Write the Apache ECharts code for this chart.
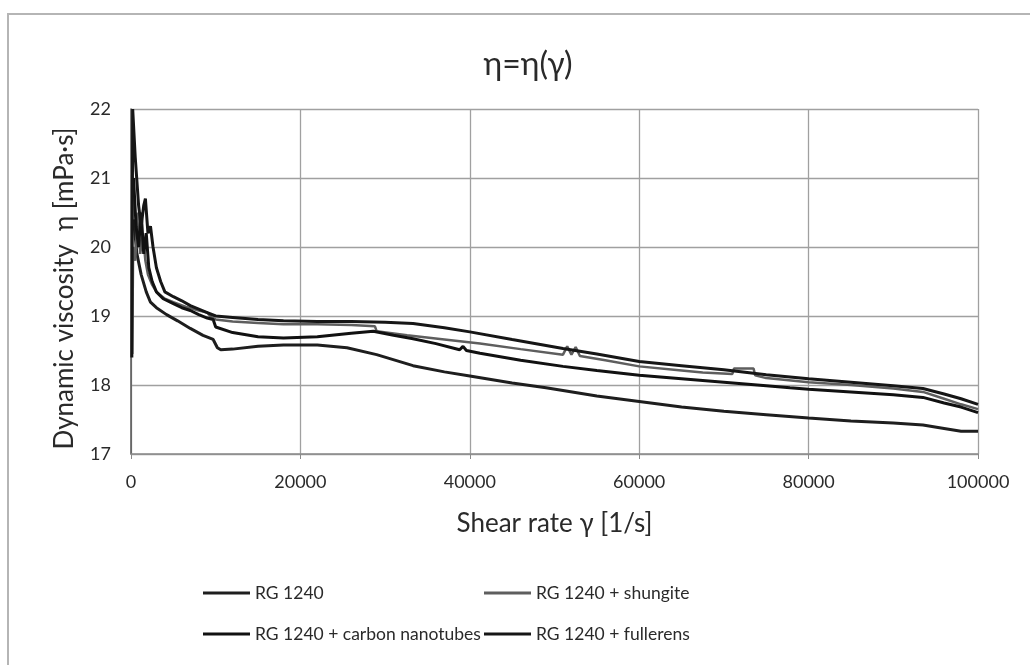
<!DOCTYPE html>
<html>
<head>
<meta charset="utf-8">
<script src="https://cdn.jsdelivr.net/npm/echarts@6/dist/echarts.min.js"></script>
<style>html,body{margin:0;padding:0;background:#fff;}#c{width:1030px;height:665px;}</style>
</head>
<body>
<div id="c"></div>
<script>
const seriesNames = ["RG 1240", "RG 1240 + shungite", "RG 1240 + carbon nanotubes", "RG 1240 + fullerens"];
const xTicks = [0, 20000, 40000, 60000, 80000, 100000];
const yTicks = [17, 18, 19, 20, 21, 22];

const rg1240 = [[300,20.4],[700,19.9],[1200,19.6],[1800,19.35],[2300,19.2],[3000,19.12],[4200,19.02],[5500,18.93],[7000,18.82],[8500,18.72],[9700,18.66],[10200,18.54],[10600,18.51],[12000,18.52],[15000,18.56],[18000,18.58],[22000,18.58],[25500,18.54],[29000,18.44],[33300,18.28],[37000,18.19],[40000,18.13],[45000,18.03],[49000,17.96],[55000,17.84],[60000,17.76],[65000,17.68],[70000,17.62],[75000,17.57],[80000,17.52],[85000,17.48],[90000,17.45],[93500,17.42],[96000,17.37],[98000,17.33],[100000,17.33]];

const shungite = [[150,18.45],[250,20.0],[500,19.8],[800,20.5],[1100,19.9],[1400,20.2],[1700,19.8],[2000,19.6],[2500,19.45],[3000,19.35],[4000,19.25],[5000,19.2],[6500,19.13],[8000,19.08],[9000,19.05],[9500,18.98],[10000,18.95],[12000,18.92],[15000,18.9],[18000,18.88],[22000,18.88],[26000,18.87],[28800,18.85],[29000,18.78],[32600,18.72],[37000,18.66],[41200,18.6],[46000,18.52],[51000,18.44],[51500,18.56],[52000,18.44],[52500,18.55],[53000,18.42],[56000,18.36],[60000,18.27],[65000,18.21],[67500,18.18],[71000,18.16],[71200,18.24],[73500,18.24],[73700,18.14],[75000,18.1],[80000,18.04],[85000,18.0],[90000,17.95],[93500,17.9],[96000,17.8],[98000,17.72],[100000,17.65]];

const nanotubes = [[300,21.0],[600,20.3],[900,20.0],[1200,20.5],[1500,19.9],[1800,20.2],[2100,19.7],[2500,19.5],[3000,19.35],[3800,19.25],[5000,19.18],[6000,19.12],[7000,19.08],[8000,19.02],[9000,18.97],[9700,18.95],[10000,18.84],[12000,18.76],[15000,18.7],[18000,18.68],[22000,18.7],[26000,18.75],[28600,18.78],[31000,18.72],[33300,18.67],[36000,18.6],[38800,18.51],[39200,18.56],[39600,18.5],[41200,18.46],[46000,18.36],[51000,18.27],[55000,18.21],[60000,18.14],[65000,18.09],[70000,18.04],[75000,17.99],[77800,17.96],[80000,17.94],[85000,17.9],[90000,17.86],[93500,17.82],[96000,17.74],[98000,17.68],[100000,17.6]];

const fullerens = [[100,18.4],[200,22.0],[500,21.3],[900,20.6],[1200,20.3],[1500,20.6],[1700,20.7],[2000,20.2],[2300,20.3],[2600,20.0],[3000,19.7],[3500,19.5],[4000,19.35],[5000,19.28],[6000,19.22],[7000,19.15],[8000,19.1],[9000,19.05],[10000,19.0],[12000,18.98],[15000,18.95],[18000,18.93],[22000,18.92],[26000,18.92],[30000,18.91],[33300,18.89],[37000,18.83],[40000,18.77],[45000,18.66],[51000,18.53],[55000,18.45],[60000,18.34],[65000,18.28],[70000,18.22],[75000,18.15],[80000,18.09],[85000,18.04],[90000,17.99],[93500,17.95],[96000,17.87],[98000,17.8],[100000,17.72]];

const seriesData = [rg1240, shungite, nanotubes, fullerens];
const colors = ["#1e1e1e", "#5e5e5e", "#111111", "#161616"];
const widths = [3, 2.5, 3, 3];
const FONT = "Lato";

const chart = echarts.init(document.getElementById('c'), null, {renderer: 'canvas'});
const legendPos = [[198, 579], [479, 579], [198, 620], [479, 620]];
chart.setOption({
  backgroundColor: '#fff',
  animation: false,
  textStyle: {fontFamily: FONT},
  title: {
    text: 'η=η(γ)', left: 523, top: 44, textAlign: 'center',
    textStyle: {fontFamily: FONT, fontSize: 32, fontWeight: 'normal', color: '#2a2a2a'}
  },
  graphic: [{
    type: 'rect', shape: {x: 8, y: 14, width: 1040, height: 680},
    style: {fill: 'none', stroke: '#b5b5b5', lineWidth: 2}, silent: true
  }],
  legend: seriesNames.map((n, i) => ({
    data: [n], left: legendPos[i][0], top: legendPos[i][1],
    icon: 'rect', itemWidth: 47, itemHeight: 3,
    textStyle: {fontFamily: FONT, fontSize: 17.5, color: '#2a2a2a'}
  })),
  grid: {left: 131, right: 52, top: 109, bottom: 211},
  xAxis: {
    type: 'value', min: xTicks[0], max: xTicks[xTicks.length - 1], interval: 20000,
    name: 'Shear rate γ [1/s]', nameLocation: 'middle', nameGap: 57,
    nameTextStyle: {fontFamily: FONT, fontSize: 26, color: '#2a2a2a'},
    axisLine: {lineStyle: {color: '#8a8a8a', width: 1.5}},
    axisTick: {show: true, length: 5, lineStyle: {color: '#8a8a8a'}},
    axisLabel: {fontFamily: FONT, fontSize: 18, color: '#2a2a2a', margin: 19, formatter: v => String(v)},
    splitLine: {show: true, lineStyle: {color: '#a0a0a0', width: 1.3}}
  },
  yAxis: {
    type: 'value', min: yTicks[0], max: yTicks[yTicks.length - 1], interval: 1,
    name: 'Dynamic viscosity  η [mPa·s]', nameLocation: 'middle', nameGap: 53,
    nameTextStyle: {fontFamily: FONT, fontSize: 26, color: '#2a2a2a', padding: [0, 14, 0, 0]},
    axisLine: {show: true, lineStyle: {color: '#555', width: 1.5}},
    axisTick: {show: false},
    axisLabel: {fontFamily: FONT, fontSize: 18, color: '#2a2a2a', margin: 20},
    splitLine: {show: true, lineStyle: {color: '#a0a0a0', width: 1.3}}
  },
  series: seriesNames.map((n, i) => ({
    name: n, type: 'line', data: seriesData[i], showSymbol: false, symbol: 'none',
    lineStyle: {color: colors[i], width: widths[i]}, itemStyle: {color: colors[i]},
    z: 3 + i
  }))
});
</script>
</body>
</html>
